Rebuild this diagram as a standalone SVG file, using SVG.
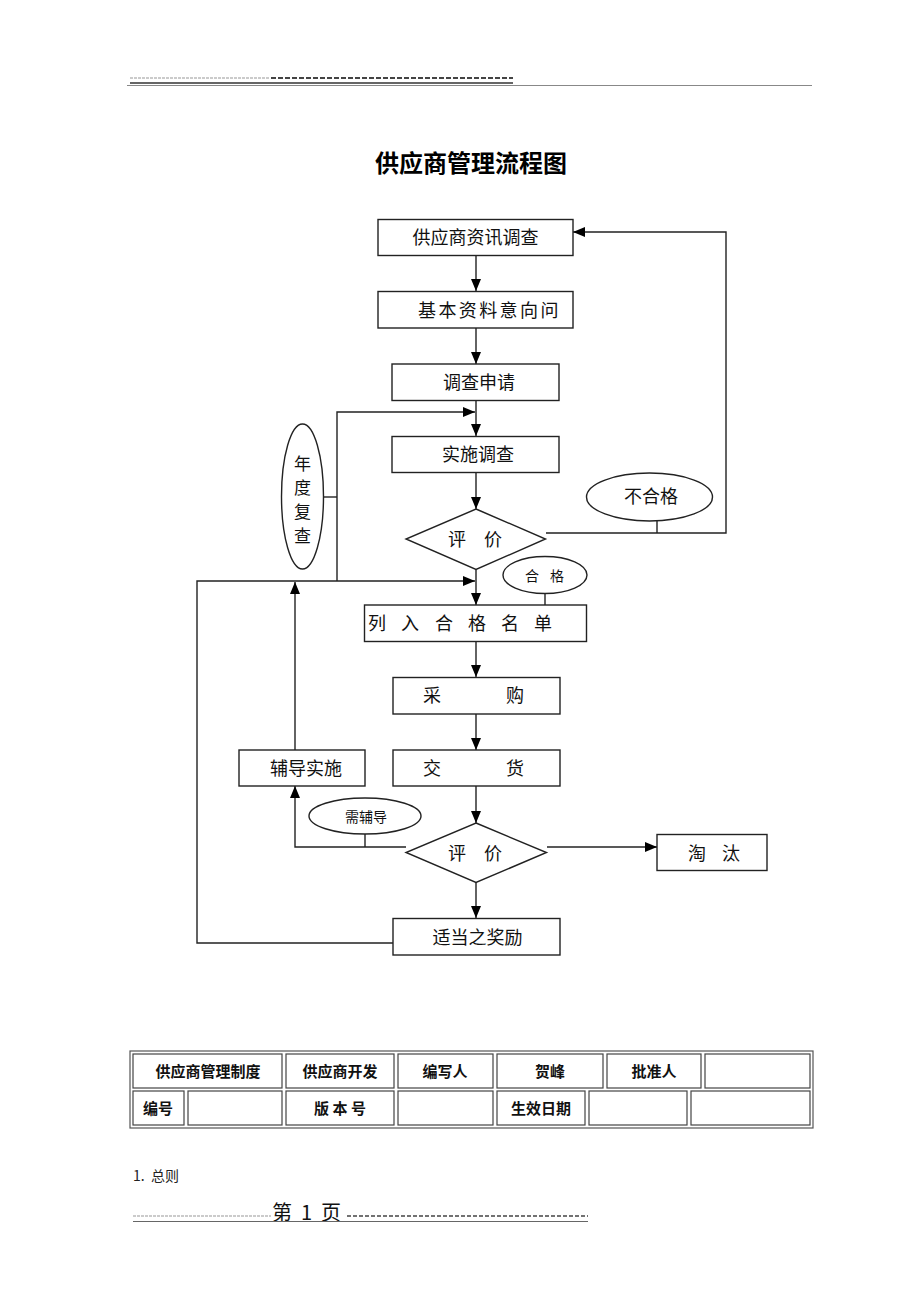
<svg xmlns="http://www.w3.org/2000/svg" width="920" height="1302" viewBox="0 0 920 1302">
<defs>
<marker id="ah" markerUnits="userSpaceOnUse" markerWidth="12" markerHeight="10" viewBox="0 0 12 10" refX="12" refY="5" orient="auto">
<path d="M0,0 L12,5 L0,10 Z" fill="#000"/>
</marker>
<style>
.bx{fill:#fff;stroke:#222;stroke-width:1.4}
.ln{fill:none;stroke:#222;stroke-width:1.4}
.t{font-family:"Noto Sans CJK SC","Liberation Serif",serif;font-size:18px;fill:#111}
.ts{font-family:"Noto Sans CJK SC","Liberation Serif",serif;font-size:14px;fill:#111}
.tb{font-family:"Noto Sans CJK SC","Liberation Serif",serif;font-size:15px;font-weight:bold;fill:#111}
.cell{fill:none;stroke:#444;stroke-width:1.2}
</style>
</defs>
<rect width="920" height="1302" fill="#fff"/>

<g id="header">
<line x1="130" y1="78" x2="270" y2="78" stroke="#bbb" stroke-width="1.5" stroke-dasharray="3,1"/>
<line x1="271" y1="78" x2="513" y2="78" stroke="#444" stroke-width="2" stroke-dasharray="5,2"/>
<line x1="130" y1="83" x2="513" y2="83" stroke="#333" stroke-width="1.3"/>
<line x1="127" y1="85.5" x2="812" y2="85.5" stroke="#888" stroke-width="1.2"/>
</g>

<text id="title" x="471" y="172" text-anchor="middle" style="font-family:'Noto Sans CJK SC','Liberation Serif',serif;font-size:24px;font-weight:bold;fill:#000">供应商管理流程图</text>

<g id="connectors">
<line class="ln" x1="476" y1="255" x2="476" y2="291" marker-end="url(#ah)"/>
<line class="ln" x1="476" y1="328" x2="476" y2="364" marker-end="url(#ah)"/>
<line class="ln" x1="476" y1="401" x2="476" y2="436" marker-end="url(#ah)"/>
<polyline class="ln" points="323,497 337,497"/>
<polyline class="ln" points="337,581 337,412 475,412" marker-end="url(#ah)"/>
<line class="ln" x1="476" y1="473" x2="476" y2="509" marker-end="url(#ah)"/>
<line class="ln" x1="476" y1="569" x2="476" y2="605" marker-end="url(#ah)"/>
<polyline class="ln" points="393,943 197,943 197,581 475,581" marker-end="url(#ah)"/>
<polyline class="ln" points="546,533 726,533 726,232 573,232" marker-end="url(#ah)"/>
<line class="ln" x1="657" y1="521" x2="657" y2="533"/>
<line class="ln" x1="545" y1="593" x2="545" y2="605"/>
<line class="ln" x1="476" y1="642" x2="476" y2="677" marker-end="url(#ah)"/>
<line class="ln" x1="476" y1="714" x2="476" y2="750" marker-end="url(#ah)"/>
<line class="ln" x1="476" y1="786" x2="476" y2="823" marker-end="url(#ah)"/>
<polyline class="ln" points="406,847 295,847 295,786" marker-end="url(#ah)"/>
<line class="ln" x1="365" y1="834" x2="365" y2="847"/>
<line class="ln" x1="547" y1="847" x2="657" y2="847" marker-end="url(#ah)"/>
<line class="ln" x1="476" y1="882" x2="476" y2="918" marker-end="url(#ah)"/>
<line class="ln" x1="295" y1="750" x2="295" y2="582" marker-end="url(#ah)"/>
</g>

<g id="n1"><rect class="bx" x="378" y="219.5" width="195" height="36"/><text class="t" x="475.5" y="244" text-anchor="middle">供应商资讯调查</text></g>
<g id="n2"><rect class="bx" x="378" y="291.5" width="195" height="36.5"/><text class="t" x="418" y="317" style="letter-spacing:2.4px">基本资料意向问</text></g>
<g id="n3"><rect class="bx" x="392" y="364" width="167" height="36.5"/><text class="t" x="479" y="389" text-anchor="middle">调查申请</text></g>
<g id="n4"><rect class="bx" x="392" y="436.5" width="167" height="36"/><text class="t" x="478" y="461" text-anchor="middle">实施调查</text></g>
<g id="d1"><polygon class="bx" points="476,509 545.5,539 476,569.5 406,539"/><text class="t" x="457" y="546" text-anchor="middle">评</text><text class="t" x="493" y="546" text-anchor="middle">价</text></g>
<g id="o1"><ellipse class="bx" cx="302.5" cy="496.5" rx="21" ry="72.5"/>
<text class="t" x="302.5" y="470" text-anchor="middle" style="font-size:17px">年</text>
<text class="t" x="302.5" y="494" text-anchor="middle" style="font-size:17px">度</text>
<text class="t" x="302.5" y="518" text-anchor="middle" style="font-size:17px">复</text>
<text class="t" x="302.5" y="542" text-anchor="middle" style="font-size:17px">查</text></g>
<g id="o2"><ellipse class="bx" cx="649.5" cy="497" rx="63" ry="24"/><text class="t" x="651" y="503" text-anchor="middle">不合格</text></g>
<g id="o3"><ellipse class="bx" cx="545" cy="575" rx="42" ry="18.5"/><text class="ts" x="532" y="581" text-anchor="middle">合</text><text class="ts" x="557" y="581" text-anchor="middle">格</text></g>
<g id="n5"><rect class="bx" x="364.5" y="605" width="222" height="36.5"/>
<text class="t" x="377" y="630" text-anchor="middle">列</text><text class="t" x="410" y="630" text-anchor="middle">入</text><text class="t" x="444" y="630" text-anchor="middle">合</text><text class="t" x="477" y="630" text-anchor="middle">格</text><text class="t" x="510" y="630" text-anchor="middle">名</text><text class="t" x="543" y="630" text-anchor="middle">单</text></g>
<g id="n6"><rect class="bx" x="393" y="677.5" width="167" height="36.5"/><text class="t" x="432" y="702" text-anchor="middle">采</text><text class="t" x="515" y="702" text-anchor="middle">购</text></g>
<g id="n7"><rect class="bx" x="393" y="750" width="167" height="36"/><text class="t" x="432" y="775" text-anchor="middle">交</text><text class="t" x="515" y="775" text-anchor="middle">货</text></g>
<g id="n8"><rect class="bx" x="239" y="750" width="126" height="36"/><text class="t" x="306" y="775" text-anchor="middle">辅导实施</text></g>
<g id="o4"><ellipse class="bx" cx="365" cy="816" rx="56" ry="18"/><text class="ts" x="366" y="822" text-anchor="middle">需辅导</text></g>
<g id="d2"><polygon class="bx" points="476,823 546.5,852.5 476,882.5 406,852.5"/><text class="t" x="457" y="860" text-anchor="middle">评</text><text class="t" x="493" y="860" text-anchor="middle">价</text></g>
<g id="n9"><rect class="bx" x="657" y="834.5" width="110" height="36"/><text class="t" x="697" y="860" text-anchor="middle">淘</text><text class="t" x="731" y="860" text-anchor="middle">汰</text></g>
<g id="n10"><rect class="bx" x="393" y="918.5" width="167" height="36.5"/><text class="t" x="477.5" y="944" text-anchor="middle">适当之奖励</text></g>

<g id="table">
<rect x="130" y="1051" width="683" height="77" fill="none" stroke="#555" stroke-width="1.2"/>
<rect class="cell" x="133" y="1054" width="149" height="34"/>
<rect class="cell" x="286" y="1054" width="108" height="34"/>
<rect class="cell" x="398" y="1054" width="95" height="34"/>
<rect class="cell" x="497" y="1054" width="106" height="34"/>
<rect class="cell" x="607" y="1054" width="94" height="34"/>
<rect class="cell" x="705" y="1054" width="105" height="34"/>
<rect class="cell" x="133" y="1091" width="51" height="34"/>
<rect class="cell" x="188" y="1091" width="94" height="34"/>
<rect class="cell" x="286" y="1091" width="108" height="34"/>
<rect class="cell" x="398" y="1091" width="95" height="34"/>
<rect class="cell" x="497" y="1091" width="88" height="34"/>
<rect class="cell" x="589" y="1091" width="98" height="34"/>
<rect class="cell" x="691" y="1091" width="119" height="34"/>
<text class="tb" x="208" y="1077" text-anchor="middle">供应商管理制度</text>
<text class="tb" x="340" y="1077" text-anchor="middle">供应商开发</text>
<text class="tb" x="445" y="1077" text-anchor="middle">编写人</text>
<text class="tb" x="550" y="1077" text-anchor="middle">贺峰</text>
<text class="tb" x="654" y="1077" text-anchor="middle">批准人</text>
<text class="tb" x="158" y="1114" text-anchor="middle">编号</text>
<text class="tb" x="340" y="1114" text-anchor="middle" xml:space="preserve">版 本 号</text>
<text class="tb" x="541" y="1114" text-anchor="middle">生效日期</text>
</g>

<text id="sec" x="133" y="1181" xml:space="preserve" style="font-family:'Noto Sans CJK SC','Liberation Serif',serif;font-size:14px;fill:#222">1.  总则</text>

<g id="footer">
<line x1="133" y1="1216" x2="271" y2="1216" stroke="#bbb" stroke-width="1.3" stroke-dasharray="3,1"/>
<text x="272" y="1220" xml:space="preserve" style="font-family:'Noto Sans CJK SC','Liberation Serif',serif;font-size:20px;fill:#111">第  1  页</text>
<line x1="347" y1="1216" x2="588" y2="1216" stroke="#444" stroke-width="1.6" stroke-dasharray="4,2"/>
<line x1="133" y1="1221.5" x2="588" y2="1221.5" stroke="#666" stroke-width="1.2"/>
</g>
</svg>
